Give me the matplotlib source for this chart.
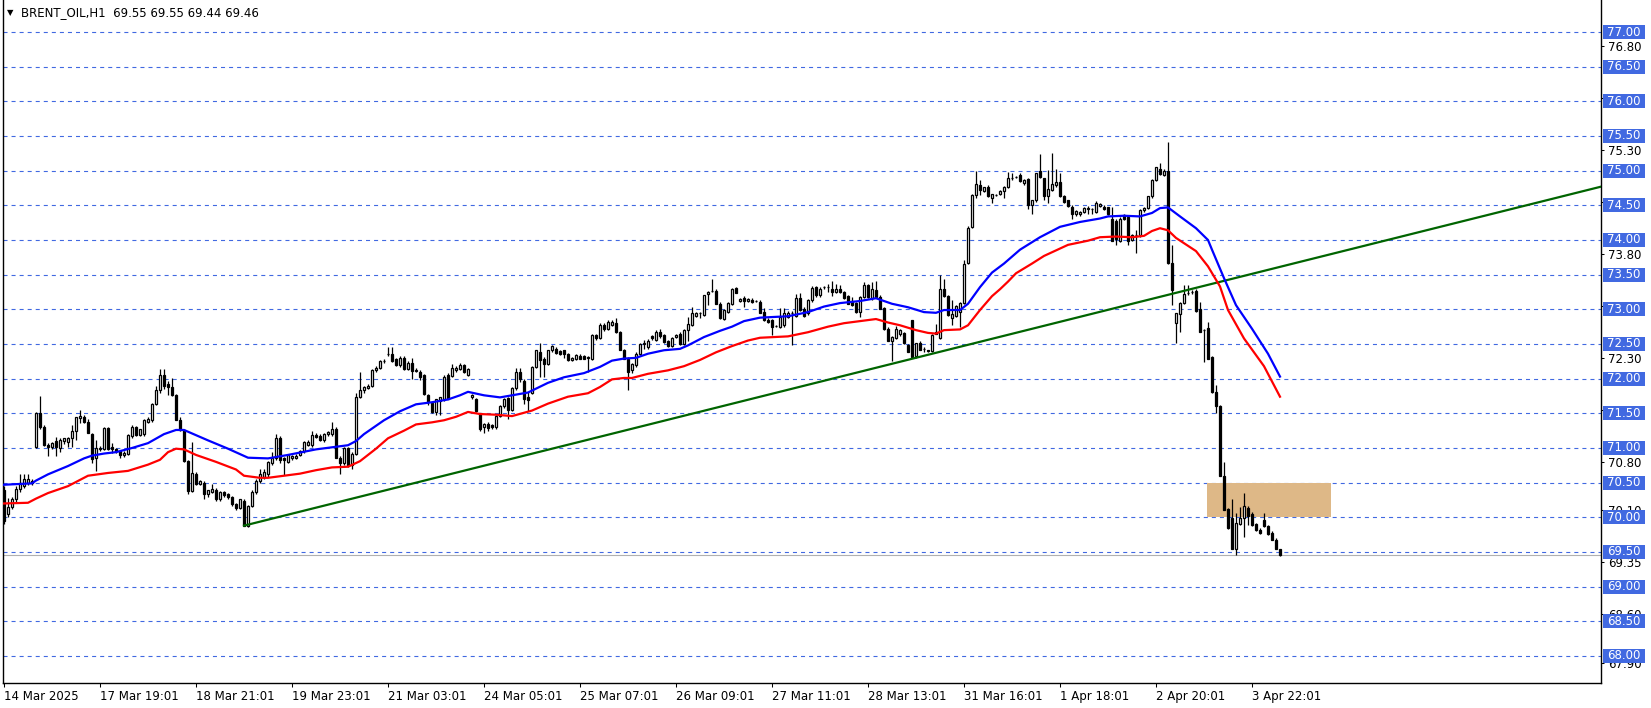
import matplotlib
matplotlib.use('Agg')
import matplotlib.pyplot as plt
import matplotlib.transforms as mtransforms
from matplotlib.patches import Rectangle
import numpy as np

# hourly BRENT_OIL candles (bar 0 = 14 Mar)
opens = [
    70.40, 70.05, 70.15, 70.26, 70.41, 70.45, 70.50, 70.53, 71.02, 71.51,
    71.30, 71.05, 71.02, 71.10, 71.00, 71.10, 71.09, 71.15, 71.24, 71.43,
    71.45, 71.38, 71.20, 70.85, 70.98, 70.98, 71.29, 71.02, 70.98, 70.95,
    70.90, 70.92, 71.18, 71.30, 71.19, 71.20, 71.38, 71.40, 71.64, 71.83,
    72.06, 71.92, 71.88, 71.76, 71.41, 71.26, 70.81, 70.38, 70.63, 70.48,
    70.50, 70.33, 70.37, 70.40, 70.26, 70.36, 70.33, 70.29, 70.19, 70.14,
    70.24, 69.88, 70.17, 70.36, 70.52, 70.58, 70.62, 70.78, 70.85, 71.14,
    70.85, 70.80, 70.86, 70.86, 70.90, 70.95, 71.05, 71.04, 71.19, 71.18,
    71.11, 71.20, 71.20, 71.28, 70.86, 70.78, 71.00, 70.76, 70.92, 71.74,
    71.83, 71.87, 71.90, 72.12, 72.16, 72.25, 72.35, 72.35, 72.28, 72.19,
    72.30, 72.14, 72.23, 72.11, 72.10, 72.05, 71.76, 71.65, 71.52, 71.68,
    71.70, 72.06, 72.04, 72.13, 72.14, 72.19, 72.06, 71.73, 71.70, 71.50,
    71.30, 71.35, 71.33, 71.30, 71.46, 71.60, 71.72, 71.55, 71.86, 72.10,
    71.97, 71.74, 71.80, 72.17, 72.38, 72.29, 72.21, 72.41, 72.43, 72.40,
    72.41, 72.36, 72.27, 72.29, 72.33, 72.32, 72.31, 72.29, 72.63, 72.59,
    72.77, 72.72, 72.78, 72.80, 72.67, 72.41, 72.29, 72.12, 72.19, 72.36,
    72.50, 72.45, 72.61, 72.56, 72.68, 72.63, 72.54, 72.47, 72.60, 72.65,
    72.50, 72.70, 72.78, 72.91, 72.95, 72.92, 73.22, 73.27, 73.27, 73.08,
    72.86, 72.96, 73.08, 73.31, 73.12, 73.17, 73.12, 73.14, 73.12, 73.11,
    72.96, 72.85, 72.84, 72.76, 72.75, 72.77, 72.89, 72.95, 72.91, 73.16,
    73.01, 72.94, 73.13, 73.32, 73.20, 73.32, 73.32, 73.29, 73.25, 73.29,
    73.25, 73.19, 73.12, 73.09, 72.96, 73.18, 73.35, 73.16, 73.28, 73.18,
    73.02, 72.72, 72.54, 72.59, 72.64, 72.66, 72.48, 72.84, 72.32, 72.51,
    72.43, 72.41, 72.40, 72.67, 72.59, 73.30, 73.19, 72.87, 72.91, 72.96,
    73.09, 73.67, 74.19, 74.65, 74.79, 74.71, 74.77, 74.60, 74.65, 74.67,
    74.71, 74.77, 74.89, 74.91, 74.94, 74.82, 74.88, 74.50, 74.57, 75.00,
    74.89, 74.63, 74.72, 74.79, 74.83, 74.63, 74.57, 74.48, 74.37, 74.38,
    74.41, 74.44, 74.44, 74.41, 74.49, 74.48, 74.47, 74.31, 74.28, 73.99,
    74.36, 74.33, 74.00, 74.07, 74.07, 74.43, 74.46, 74.63, 74.87, 75.03,
    74.94, 75.00, 73.67, 72.81, 72.93, 73.09, 73.23, 73.25, 73.27, 73.00,
    72.70, 72.73, 72.31, 71.81, 71.60, 70.60, 70.12, 69.99, 69.55, 69.91,
    69.99, 70.14, 70.05, 69.90, 69.82, 69.96, 69.87, 69.78, 69.68, 69.55,
]
highs = [
    70.45, 70.28, 70.30, 70.45, 70.62, 70.62, 70.62, 70.56, 71.52, 71.75,
    71.33, 71.07, 71.09, 71.16, 71.14, 71.15, 71.16, 71.33, 71.45, 71.55,
    71.48, 71.42, 71.22, 71.12, 71.03, 71.30, 71.30, 71.07, 71.00, 70.96,
    70.95, 71.20, 71.33, 71.32, 71.28, 71.42, 71.45, 71.65, 71.90, 72.14,
    72.14, 71.97, 72.01, 71.78, 71.44, 71.28, 70.83, 71.08, 70.65, 70.54,
    70.52, 70.40, 70.48, 70.42, 70.38, 70.38, 70.35, 70.31, 70.21, 70.27,
    70.27, 70.18, 70.40, 70.55, 70.70, 70.70, 70.81, 70.94, 71.20, 71.18,
    70.87, 70.92, 70.90, 70.92, 70.97, 71.10, 71.11, 71.24, 71.21, 71.20,
    71.22, 71.25, 71.37, 71.30, 70.88, 71.02, 71.02, 70.94, 71.80, 72.09,
    71.90, 71.93, 72.14, 72.18, 72.27, 72.28, 72.46, 72.46, 72.30, 72.32,
    72.32, 72.25, 72.30, 72.15, 72.12, 72.07, 71.78, 71.67, 71.71, 71.74,
    72.05, 72.08, 72.21, 72.18, 72.22, 72.21, 72.15, 71.78, 71.72, 71.51,
    71.36, 71.37, 71.35, 71.47, 71.62, 71.72, 71.74, 71.88, 72.16, 72.16,
    71.99, 71.81, 72.18, 72.42, 72.51, 72.31, 72.42, 72.48, 72.46, 72.42,
    72.42, 72.37, 72.31, 72.35, 72.35, 72.34, 72.32, 72.64, 72.65, 72.80,
    72.80, 72.84, 72.85, 72.87, 72.69, 72.43, 72.31, 72.22, 72.38, 72.52,
    72.56, 72.57, 72.63, 72.70, 72.72, 72.65, 72.56, 72.60, 72.65, 72.67,
    72.72, 72.89, 73.04, 72.96, 72.96, 73.21, 73.26, 73.44, 73.29, 73.10,
    73.00, 73.10, 73.31, 73.32, 73.16, 73.19, 73.16, 73.16, 73.14, 73.13,
    73.02, 72.87, 72.86, 72.78, 73.02, 73.02, 72.97, 72.97, 73.22, 73.23,
    73.03, 73.15, 73.33, 73.34, 73.32, 73.34, 73.36, 73.41, 73.36, 73.35,
    73.27, 73.21, 73.18, 73.11, 73.19, 73.40, 73.37, 73.40, 73.41, 73.20,
    73.04, 72.74, 72.62, 72.76, 72.72, 72.68, 72.50, 72.85, 72.52, 72.54,
    72.45, 72.42, 72.64, 72.79, 73.50, 73.44, 73.20, 73.13, 73.06, 73.10,
    73.71, 74.20, 74.66, 75.00, 74.87, 74.77, 74.79, 74.67, 74.67, 74.72,
    74.78, 74.98, 74.97, 74.93, 74.97, 74.88, 74.90, 74.58, 74.97, 75.24,
    74.90, 75.01, 75.25, 75.02, 74.96, 74.65, 74.58, 74.50, 74.43, 74.42,
    74.47, 74.49, 74.46, 74.56, 74.53, 74.50, 74.48, 74.48, 74.30, 74.33,
    74.38, 74.35, 74.08, 74.14, 74.44, 74.47, 74.64, 74.88, 75.06, 75.11,
    75.03, 75.42, 73.93, 72.95, 73.10, 73.35, 73.35, 73.28, 73.30, 73.11,
    72.72, 72.82, 72.32, 71.91, 71.62, 70.80, 70.14, 70.27, 70.06, 70.15,
    70.35, 70.16, 70.07, 69.92, 69.84, 70.06, 69.89, 69.80, 69.70, 69.55,
]
lows = [
    69.90, 70.00, 70.12, 70.22, 70.36, 70.42, 70.47, 70.47, 71.00, 71.28,
    71.03, 70.88, 70.98, 70.88, 70.94, 71.06, 71.02, 71.02, 71.12, 71.36,
    71.36, 71.21, 70.79, 70.67, 70.95, 70.97, 70.97, 70.93, 70.93, 70.86,
    70.87, 70.90, 71.15, 71.18, 71.17, 71.18, 71.36, 71.38, 71.62, 71.80,
    71.85, 71.76, 71.75, 71.40, 71.25, 70.80, 70.33, 70.36, 70.46, 70.46,
    70.26, 70.30, 70.35, 70.24, 70.24, 70.30, 70.27, 70.17, 70.11, 70.12,
    69.87, 69.86, 70.15, 70.34, 70.50, 70.55, 70.58, 70.75, 70.83, 70.78,
    70.61, 70.78, 70.82, 70.84, 70.88, 70.93, 71.03, 71.02, 71.14, 71.10,
    71.08, 71.18, 71.18, 70.85, 70.63, 70.76, 70.72, 70.70, 70.90, 71.72,
    71.80, 71.85, 71.88, 72.10, 72.14, 72.23, 72.33, 72.24, 72.18, 72.17,
    72.12, 72.12, 72.00, 72.10, 71.98, 71.76, 71.62, 71.50, 71.48, 71.48,
    71.68, 71.70, 72.02, 72.10, 72.12, 72.08, 72.04, 71.70, 71.52, 71.25,
    71.22, 71.25, 71.27, 71.28, 71.44, 71.58, 71.42, 71.53, 71.84, 71.95,
    71.64, 71.54, 71.78, 72.15, 72.02, 72.02, 72.19, 72.39, 72.35, 72.34,
    72.30, 72.25, 72.26, 72.27, 72.28, 72.28, 72.10, 72.27, 72.56, 72.57,
    72.69, 72.70, 72.76, 72.66, 72.41, 72.28, 71.84, 72.08, 72.17, 72.34,
    72.43, 72.43, 72.56, 72.54, 72.59, 72.51, 72.45, 72.45, 72.58, 72.49,
    72.48, 72.55, 72.76, 72.89, 72.87, 72.90, 73.06, 73.25, 73.07, 72.86,
    72.84, 72.94, 73.06, 73.23, 73.10, 73.04, 73.10, 73.09, 73.10, 72.94,
    72.83, 72.80, 72.63, 72.74, 72.73, 72.75, 72.87, 72.48, 72.89, 72.97,
    72.89, 72.92, 73.11, 73.18, 73.18, 73.30, 73.25, 73.19, 73.23, 73.23,
    73.15, 73.07, 73.05, 72.95, 72.89, 73.16, 73.17, 73.14, 73.17, 73.00,
    72.70, 72.54, 72.26, 72.57, 72.62, 72.50, 72.38, 72.30, 72.30, 72.41,
    72.38, 72.39, 72.38, 72.64, 72.57, 73.18, 72.91, 72.77, 72.89, 72.75,
    73.07, 73.65, 74.17, 74.60, 74.65, 74.69, 74.62, 74.53, 74.63, 74.65,
    74.60, 74.75, 74.87, 74.89, 74.84, 74.80, 74.44, 74.38, 74.55, 74.90,
    74.58, 74.54, 74.70, 74.77, 74.62, 74.54, 74.48, 74.30, 74.35, 74.34,
    74.39, 74.38, 74.38, 74.39, 74.47, 74.43, 74.36, 73.98, 73.93, 73.97,
    74.29, 73.93, 73.98, 73.81, 74.05, 74.41, 74.44, 74.61, 74.85, 74.94,
    74.92, 73.65, 73.06, 72.52, 72.68, 73.07, 73.20, 73.22, 72.96, 72.67,
    72.24, 72.29, 71.80, 71.50, 70.59, 70.10, 69.83, 69.54, 69.46, 69.89,
    69.72, 69.89, 69.88, 69.81, 69.76, 69.86, 69.75, 69.67, 69.54, 69.44,
]
closes = [
    69.95, 70.15, 70.26, 70.41, 70.50, 70.56, 70.55, 70.49, 71.51, 71.30,
    71.05, 71.02, 71.07, 71.01, 71.12, 71.14, 71.15, 71.25, 71.44, 71.46,
    71.38, 71.22, 70.84, 71.00, 71.00, 71.29, 70.98, 70.98, 70.96, 70.90,
    70.93, 71.19, 71.31, 71.19, 71.27, 71.41, 71.42, 71.64, 71.83, 72.06,
    71.90, 71.88, 71.76, 71.41, 71.26, 70.81, 70.38, 70.64, 70.48, 70.52,
    70.34, 70.39, 70.41, 70.26, 70.37, 70.32, 70.29, 70.19, 70.14, 70.26,
    69.88, 70.17, 70.37, 70.52, 70.62, 70.66, 70.80, 70.85, 71.14, 70.82,
    70.82, 70.90, 70.88, 70.89, 70.95, 71.09, 71.09, 71.19, 71.16, 71.11,
    71.20, 71.23, 71.28, 70.86, 70.78, 71.00, 70.75, 70.92, 71.73, 71.83,
    71.88, 71.90, 72.12, 72.16, 72.25, 72.26, 72.36, 72.25, 72.20, 72.30,
    72.14, 72.23, 72.11, 72.13, 72.02, 71.78, 71.67, 71.52, 71.70, 71.73,
    72.03, 71.71, 72.16, 72.16, 72.20, 72.10, 72.14, 71.76, 71.54, 71.27,
    71.34, 71.29, 71.30, 71.46, 71.61, 71.70, 71.55, 71.86, 72.10, 71.99,
    71.70, 71.69, 72.17, 72.41, 72.27, 72.21, 72.41, 72.47, 72.37, 72.36,
    72.36, 72.27, 72.30, 72.34, 72.29, 72.29, 72.30, 72.63, 72.58, 72.78,
    72.71, 72.82, 72.82, 72.67, 72.42, 72.29, 72.10, 72.21, 72.36, 72.50,
    72.51, 72.55, 72.58, 72.67, 72.61, 72.53, 72.47, 72.59, 72.63, 72.50,
    72.70, 72.79, 72.95, 72.95, 72.95, 73.20, 73.25, 73.27, 73.08, 72.87,
    72.99, 73.09, 73.30, 73.24, 73.15, 73.12, 73.15, 73.11, 73.12, 72.95,
    72.84, 72.82, 72.75, 72.76, 72.89, 72.94, 72.95, 72.95, 73.16, 72.99,
    72.91, 73.14, 73.31, 73.20, 73.30, 73.32, 73.32, 73.25, 73.29, 73.25,
    73.16, 73.08, 73.06, 72.96, 73.18, 73.35, 73.18, 73.29, 73.18, 73.01,
    72.72, 72.55, 72.60, 72.71, 72.70, 72.51, 72.39, 72.31, 72.51, 72.42,
    72.43, 72.40, 72.63, 72.65, 73.30, 73.19, 72.92, 72.93, 73.05, 73.09,
    73.66, 74.18, 74.65, 74.81, 74.72, 74.76, 74.63, 74.66, 74.65, 74.71,
    74.77, 74.89, 74.89, 74.91, 74.85, 74.87, 74.50, 74.57, 74.96, 74.91,
    74.63, 74.73, 74.81, 74.83, 74.63, 74.55, 74.49, 74.37, 74.42, 74.41,
    74.46, 74.46, 74.44, 74.53, 74.52, 74.44, 74.37, 73.99, 74.01, 74.31,
    74.30, 73.99, 74.07, 74.07, 74.43, 74.46, 74.63, 74.87, 75.05, 74.95,
    74.99, 73.67, 73.28, 72.94, 73.09, 73.22, 73.24, 73.25, 72.97, 72.68,
    72.70, 72.29, 71.81, 71.60, 70.60, 70.11, 69.84, 69.55, 69.92, 69.99,
    70.16, 70.02, 69.89, 69.82, 69.77, 69.87, 69.76, 69.68, 69.55, 69.46,
]

# moving averages, read at sample bars
blue_bars = [0, 7, 8, 11, 16, 20, 22, 25, 28, 32, 36, 40, 43, 45, 47, 51, 56, 61,
             66, 71, 78, 82, 86, 88, 90, 95, 99, 103, 107, 111, 114, 116, 120, 124,
             131, 136, 140, 145, 149, 152, 155, 158, 161, 165, 169, 171, 175, 179,
             182, 185, 189, 196, 201, 205, 209, 214, 218, 222, 226, 230, 233, 235,
             239, 241, 244, 247, 250, 254, 259, 264, 269, 274, 276, 280, 284, 287,
             289, 291, 294, 298, 301, 302, 305, 308, 312, 316, 319]
blue_ma = [70.47, 70.49, 70.53, 70.62, 70.74, 70.85, 70.89, 70.92, 70.94, 71.00,
           71.07, 71.20, 71.26, 71.26, 71.21, 71.11, 70.99, 70.86, 70.85, 70.90,
           70.98, 71.01, 71.04, 71.10, 71.20, 71.40, 71.53, 71.63, 71.66, 71.70,
           71.76, 71.81, 71.76, 71.73, 71.80, 71.94, 72.02, 72.08, 72.17, 72.26,
           72.29, 72.30, 72.36, 72.41, 72.43, 72.48, 72.60, 72.69, 72.75, 72.83,
           72.88, 72.90, 72.96, 73.04, 73.09, 73.12, 73.16, 73.08, 73.03, 72.96,
           72.95, 72.99, 72.99, 73.08, 73.32, 73.53, 73.66, 73.86, 74.04, 74.19,
           74.26, 74.31, 74.34, 74.35, 74.34, 74.39, 74.46, 74.47, 74.34, 74.17,
           74.00, 73.86, 73.45, 73.06, 72.72, 72.36, 72.03]
red_bars = [0, 6, 8, 11, 16, 19, 21, 26, 31, 36, 39, 41, 43, 45, 48, 53, 58, 60,
            64, 66, 70, 74, 78, 82, 86, 89, 93, 96, 100, 103, 107, 110, 113, 116,
            119, 123, 127, 132, 136, 141, 146, 149, 152, 155, 157, 161, 166, 170,
            174, 178, 182, 186, 189, 196, 201, 206, 210, 214, 218, 221, 224, 228,
            231, 233, 235, 239, 241, 244, 247, 249, 251, 253, 257, 260, 266, 271,
            274, 278, 282, 285, 287, 289, 291, 293, 298, 301, 304, 306, 310, 315, 319]
red_ma = [70.20, 70.21, 70.27, 70.35, 70.45, 70.54, 70.60, 70.64, 70.67, 70.76,
          70.83, 70.94, 70.99, 70.98, 70.90, 70.80, 70.69, 70.60, 70.57, 70.57,
          70.60, 70.63, 70.68, 70.72, 70.73, 70.81, 70.99, 71.14, 71.25, 71.34,
          71.37, 71.40, 71.45, 71.52, 71.49, 71.48, 71.46, 71.54, 71.64, 71.74,
          71.79, 71.88, 71.99, 72.01, 72.01, 72.07, 72.12, 72.18, 72.27, 72.38,
          72.47, 72.55, 72.59, 72.61, 72.67, 72.75, 72.80, 72.83, 72.86, 72.81,
          72.77, 72.70, 72.66, 72.65, 72.70, 72.71, 72.77, 72.99, 73.19, 73.29,
          73.40, 73.52, 73.66, 73.77, 73.93, 73.99, 74.04, 74.05, 74.04, 74.06,
          74.13, 74.17, 74.14, 74.03, 73.84, 73.62, 73.33, 72.99, 72.58, 72.18,
          71.74]

# drawn objects
trend_bars = [60, 400]
trend_prices = [69.88, 74.78]
zone_bars = [300.75, 331.75]
zone_prices = [70.0, 70.5]
levels = [68.0, 68.5, 69.0, 69.5, 70.0, 70.5, 71.0, 71.5, 72.0, 72.5,
          73.0, 73.5, 74.0, 74.5, 75.0, 75.5, 76.0, 76.5, 77.0]
price_ticks = [76.80, 76.05, 75.30, 74.55, 73.80, 73.05, 72.30, 71.55,
               70.80, 70.10, 69.35, 68.60, 67.90]
time_ticks = [0, 24, 48, 72, 96, 120, 144, 168, 192, 216, 240, 264, 288, 312]
time_labels = ['14 Mar 2025', '17 Mar 19:01', '18 Mar 21:01', '19 Mar 23:01',
               '21 Mar 03:01', '24 Mar 05:01', '25 Mar 07:01', '26 Mar 09:01',
               '27 Mar 11:01', '28 Mar 13:01', '31 Mar 16:01', '1 Apr 18:01',
               '2 Apr 20:01', '3 Apr 22:01']

plt.rcParams['font.family'] = ['DejaVu Sans']
plt.rcParams['lines.scale_dashes'] = False

W, H = 1651, 708
L_PX, R_PX, B_PX = 3, 1601, 683
fig = plt.figure(figsize=(W / 100, H / 100), dpi=100)
ax = fig.add_axes([L_PX / W, 1 - B_PX / H, (R_PX - L_PX) / W, B_PX / H])

# 4 px per bar, bar 0 at pixel 4; 69.33 px per 1.00
ax.set_xlim((L_PX - 4) / 4, (R_PX - 4) / 4)
ax.set_ylim(77 - (B_PX - 32) / 69.333, 77 + 32 / 69.333)

for lvl in levels:
    ax.axhline(lvl, color='#4169E1', lw=0.8, dashes=(2.9, 2.9), zorder=1)

ax.add_patch(Rectangle((zone_bars[0], zone_prices[0]), zone_bars[1] - zone_bars[0],
                       zone_prices[1] - zone_prices[0], facecolor='#DEB887',
                       edgecolor='none', zorder=1.5))

# bid line
ax.axhline(closes[-1], color='#B0B0B0', lw=0.8, zorder=1.2)

o = np.array(opens)
c = np.array(closes)
x = np.arange(len(c))
ax.vlines(x, lows, highs, color='black', lw=0.9, zorder=3)
ax.bar(x, np.abs(c - o), bottom=np.minimum(o, c), width=0.6,
       color=np.where(c >= o, 'white', 'black'), edgecolor='black',
       linewidth=0.9, zorder=4)

ax.plot(trend_bars, trend_prices, color='#006400', lw=1.6, zorder=5)
ax.plot(red_bars, red_ma, color='#FF0000', lw=1.6, zorder=5)
ax.plot(blue_bars, blue_ma, color='#0000FF', lw=1.6, zorder=5)

# axes / ticks
for side in ['left', 'right', 'bottom']:
    ax.spines[side].set_color('black')
    ax.spines[side].set_linewidth(1)
ax.spines['top'].set_visible(False)

ax.yaxis.tick_right()
ax.set_yticks(price_ticks)
ax.set_yticklabels(['%.2f' % v for v in price_ticks])
ax.tick_params(axis='y', direction='out', length=2.2, width=0.75, pad=2.9,
               labelsize=8.5, colors='black')
ax.set_xticks(time_ticks)
ax.set_xticklabels(time_labels, ha='left')
ax.tick_params(axis='x', direction='out', length=2.9, width=0.75, pad=2,
               labelsize=8.5, colors='black')

# blue price boxes for the horizontal levels
trans = mtransforms.blended_transform_factory(ax.transAxes, ax.transData)
px_w = R_PX - L_PX
for lvl in levels:
    ax.add_patch(Rectangle(((1603 - L_PX) / px_w, lvl - 7 / 69.333),
                           42 / px_w, 14 / 69.333, transform=trans,
                           facecolor='#4169E1', edgecolor='none',
                           clip_on=False, zorder=10))
    ax.text((1607 - L_PX) / px_w, lvl, '%.2f' % lvl, transform=trans,
            color='white', fontsize=8.5, ha='left', va='center',
            clip_on=False, zorder=11)

fig.text(7 / W, 1 - 13 / H, '▼', fontsize=6, ha='left', va='center')
fig.text(21 / W, 1 - 13 / H, 'BRENT_OIL,H1  69.55 69.55 69.44 69.46',
         fontsize=8.5, ha='left', va='center', color='black')

fig.savefig('out.png', dpi=100, facecolor='white')
